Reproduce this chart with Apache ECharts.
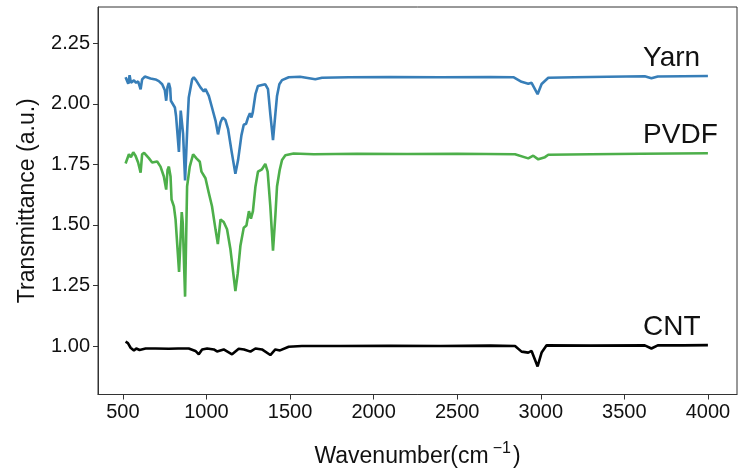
<!doctype html>
<html>
<head>
    <meta charset="UTF-8">
    <title>FTIR</title>
    <script src="https://cdn.jsdelivr.net/npm/echarts@6/dist/echarts.min.js"></script>
    <style>
        html, body { margin: 0; padding: 0; background: #fff; }
        #main { width: 739px; height: 473px; }
    </style>
</head>
<body>
<div id="main"></div>
<script type="text/javascript">
    // [wavenumber, transmittance]
    var yarnData = [
        [516, 2.110], [522, 2.118], [532, 2.083], [540, 2.118], [548, 2.087], [566, 2.097],
        [579, 2.087], [591, 2.093], [606, 2.060], [615, 2.101], [631, 2.113], [665, 2.105],
        [695, 2.101], [715, 2.094], [735, 2.081], [751, 2.056], [759, 2.013], [767, 2.070],
        [775, 2.086], [783, 2.064], [787, 2.013], [795, 2.006], [811, 1.985], [818, 1.950],
        [835, 1.802], [846, 1.972], [854, 1.972], [860, 1.877], [872, 1.684], [887, 1.931],
        [894, 2.026], [914, 2.101], [924, 2.110], [938, 2.097], [964, 2.068], [984, 2.051],
        [994, 2.061], [1014, 2.033], [1033, 1.985], [1054, 1.931], [1069, 1.874], [1084, 1.924],
        [1097, 1.944], [1113, 1.934], [1129, 1.897], [1149, 1.809], [1173, 1.711], [1189, 1.768],
        [1209, 1.870], [1223, 1.914], [1237, 1.918], [1249, 1.944], [1260, 1.961], [1269, 1.944],
        [1277, 1.965], [1293, 2.040], [1308, 2.074], [1332, 2.078], [1352, 2.081], [1368, 2.061],
        [1382, 1.958], [1398, 1.850], [1412, 1.958], [1422, 2.033], [1436, 2.081], [1452, 2.098],
        [1492, 2.110], [1560, 2.112], [1651, 2.102], [1691, 2.108], [1850, 2.110], [2100, 2.111],
        [2400, 2.110], [2700, 2.111], [2836, 2.110], [2885, 2.091], [2925, 2.083], [2945, 2.087],
        [2981, 2.040], [3005, 2.082], [3045, 2.108], [3200, 2.110], [3400, 2.112], [3622, 2.114],
        [3662, 2.106], [3700, 2.113], [3850, 2.114], [4000, 2.115]
    ];
    var pvdfData = [
        [516, 1.754], [526, 1.754], [536, 1.792], [548, 1.780], [562, 1.800], [576, 1.785],
        [591, 1.758], [606, 1.716], [615, 1.792], [627, 1.798], [655, 1.776], [675, 1.758],
        [705, 1.762], [725, 1.741], [745, 1.700], [759, 1.646], [767, 1.727], [775, 1.741],
        [785, 1.700], [791, 1.605], [805, 1.577], [815, 1.523], [836, 1.306], [852, 1.553],
        [858, 1.510], [872, 1.204], [884, 1.659], [900, 1.741], [920, 1.792], [940, 1.775],
        [960, 1.761], [970, 1.720], [994, 1.693], [1014, 1.632], [1033, 1.577], [1054, 1.482],
        [1068, 1.421], [1084, 1.523], [1103, 1.512], [1123, 1.482], [1143, 1.401], [1173, 1.227],
        [1187, 1.300], [1203, 1.414], [1223, 1.489], [1239, 1.498], [1254, 1.557], [1266, 1.526],
        [1278, 1.557], [1293, 1.659], [1308, 1.720], [1332, 1.730], [1352, 1.752], [1366, 1.720],
        [1382, 1.577], [1398, 1.394], [1412, 1.537], [1422, 1.659], [1438, 1.727], [1452, 1.768],
        [1472, 1.788], [1521, 1.795], [1641, 1.792], [1900, 1.794], [2200, 1.793], [2500, 1.794],
        [2846, 1.792], [2925, 1.775], [2955, 1.786], [2985, 1.771], [3025, 1.780], [3045, 1.790],
        [3300, 1.792], [3600, 1.794], [3800, 1.795], [4000, 1.796]
    ];
    var cntData = [
        [516, 1.018], [530, 1.012], [546, 0.993], [566, 0.982], [580, 0.990], [600, 0.984],
        [636, 0.990], [695, 0.990], [775, 0.989], [830, 0.990], [894, 0.990], [934, 0.980],
        [954, 0.966], [974, 0.986], [1004, 0.990], [1044, 0.986], [1063, 0.978], [1103, 0.986],
        [1153, 0.966], [1193, 0.989], [1225, 0.986], [1263, 0.977], [1293, 0.990], [1332, 0.986],
        [1382, 0.963], [1412, 0.986], [1440, 0.982], [1492, 0.997], [1571, 1.000], [1800, 1.000],
        [2100, 1.001], [2400, 1.000], [2700, 1.002], [2846, 1.000], [2885, 0.977], [2925, 0.973],
        [2945, 0.980], [2981, 0.916], [3005, 0.973], [3035, 1.003], [3300, 1.002], [3622, 1.003],
        [3662, 0.990], [3700, 1.003], [3850, 1.003], [4000, 1.004]
    ];
    var seriesNames = ['Yarn', 'PVDF', 'CNT'];
    var seriesColors = ['#377eb8', '#4daf4a', '#000000'];
    var labelX = 3612;
    var labelY = [2.188, 1.870, 1.077];
    var xTicks = [500, 1000, 1500, 2000, 2500, 3000, 3500, 4000];
    var yTicks = [1.00, 1.25, 1.50, 1.75, 2.00, 2.25];

    var myChart = echarts.init(document.getElementById('main'));
    var allData = [yarnData, pvdfData, cntData];
    var series = [];
    for (var i = 0; i < allData.length; i++) {
        series.push({
            name: seriesNames[i],
            type: 'line',
            data: allData[i],
            showSymbol: false,
            lineStyle: { color: seriesColors[i], width: 2.6 },
            itemStyle: { color: seriesColors[i] },
            markPoint: {
                symbol: 'circle',
                symbolSize: 0,
                silent: true,
                label: {
                    show: true,
                    position: 'right',
                    distance: 0,
                    formatter: seriesNames[i],
                    color: '#111',
                    fontSize: 28,
                    fontFamily: 'Liberation Sans'
                },
                data: [{ coord: [labelX, labelY[i]] }]
            }
        });
    }

    var option = {
        animation: false,
        backgroundColor: '#fff',
        grid: {
            left: 98, right: 2, top: 7, bottom: 76,
            show: true, borderColor: '#333', borderWidth: 1
        },
        xAxis: {
            type: 'value',
            min: 351, max: 4174,
            name: 'Wavenumber(cm{sup|\u22121})',
            nameLocation: 'middle',
            nameGap: 46,
            nameTextStyle: {
                color: '#111', fontSize: 23, fontFamily: 'Liberation Sans',
                rich: {
                    sup: { fontSize: 16, verticalAlign: 'top', padding: [0, 2, 16, 4], fontFamily: 'Liberation Sans', color: '#111' }
                }
            },
            splitLine: { show: false },
            axisLine: { lineStyle: { color: '#333' } },
            axisTick: { length: 5, customValues: xTicks, lineStyle: { color: '#333' } },
            axisLabel: {
                customValues: xTicks, color: '#111', fontSize: 20, margin: 8,
                fontFamily: 'Liberation Sans',
                formatter: function (v) { return String(v); }
            }
        },
        yAxis: {
            type: 'value',
            min: 0.8, max: 2.4,
            name: 'Transmittance (a.u.)',
            nameLocation: 'middle',
            nameGap: 59,
            nameTextStyle: { color: '#111', fontSize: 23, fontFamily: 'Liberation Sans' },
            splitLine: { show: false },
            axisLine: { show: true, lineStyle: { color: '#333' } },
            axisTick: { show: true, length: 5, customValues: yTicks, lineStyle: { color: '#333' } },
            axisLabel: {
                customValues: yTicks, color: '#111', fontSize: 20, margin: 8,
                fontFamily: 'Liberation Sans',
                formatter: function (v) { return v.toFixed(2); }
            }
        },
        series: series
    };
    myChart.setOption(option);
</script>
</body>
</html>
